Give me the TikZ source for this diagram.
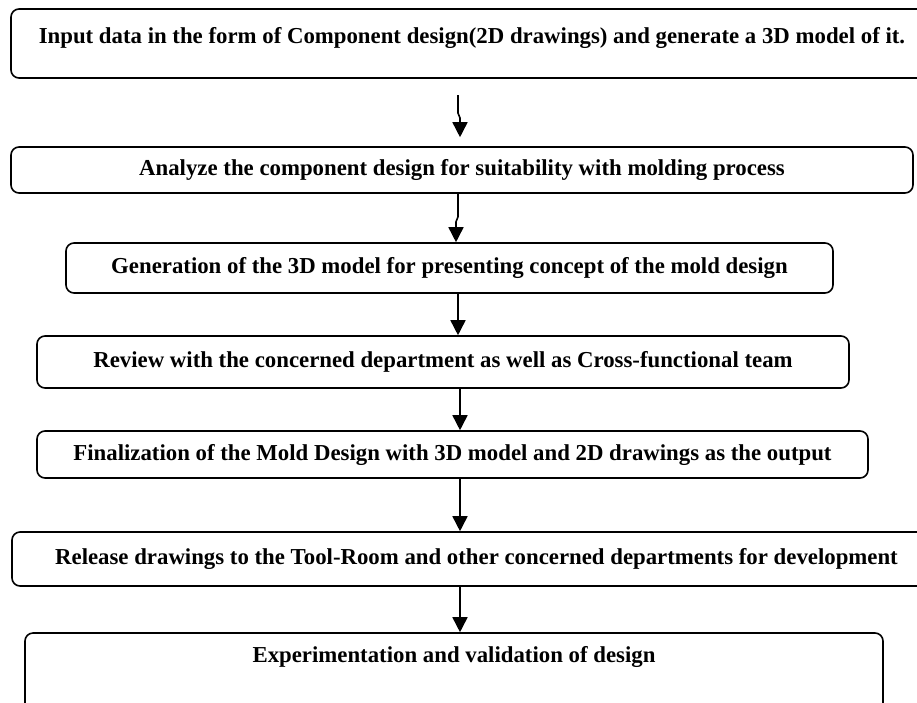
\documentclass[tikz,border=0pt]{standalone}
\usepackage{fontspec}
\setmainfont{Liberation Serif}
\usetikzlibrary{arrows.meta}
\tikzset{x=1pt, y=-1pt, % one unit is one pixel of the page, y going down
>={Triangle[width=15pt,length=15pt]}, % filled arrow heads
stage/.style={draw, line width=1.6pt, rounded corners=8pt, inner sep=0pt,
  font=\fontsize{22.8}{26}\selectfont\bfseries}, % the boxes of the flow
flow/.style={->, line width=1.6pt}, % the connectors between the boxes
}
\begin{document}
\begin{tikzpicture}
  \useasboundingbox (0,0) rectangle (917,702);

  \node[stage, minimum width=914pt, minimum height=69pt, text height=15pt, text depth=15pt] (s1) at (468,43.5)
    {\hspace*{8pt}Input data in the form of Component design(2D drawings) and generate a 3D model of it.};
  \node[stage, minimum width=902pt, minimum height=46pt] (s2) at (462,170)
    {Analyze the component design for suitability with molding process};
  \node[stage, minimum width=767pt, minimum height=50pt] (s3) at (449.5,268)
    {Generation of the 3D model for presenting concept of the mold design};
  \node[stage, minimum width=812pt, minimum height=52pt] (s4) at (443,362)
    {Review with the concerned department as well as Cross-functional team};
  \node[stage, minimum width=831pt, minimum height=47pt] (s5) at (452.5,454.5)
    {Finalization of the Mold Design with 3D model and 2D drawings as the output};
  \node[stage, minimum width=913pt, minimum height=54pt] (s6) at (468.5,559)
    {\hspace*{16pt}Release drawings to the Tool-Room and other concerned departments for development};
  \node[stage, minimum width=858pt, minimum height=79pt, text height=15pt, text depth=36pt] (s7) at (454,672.5)
    {Experimentation and validation of design};

  \coordinate (a1) at (458,95);

  \draw[flow, shorten >=9pt] (a1) -- ++(0,18) -- ++(2,5) -- (460,0 |- s2.north);
  \draw[flow] (s2.south -| 458,0) -- ++(0,23) -- ++(-2,5) -- (456,0 |- s3.north);
  \draw[flow] (s3.south -| 458,0) -- (s4.north -| 458,0);
  \draw[flow] (s4.south -| 460,0) -- (s5.north -| 460,0);
  \draw[flow] (s5.south -| 460,0) -- (s6.north -| 460,0);
  \draw[flow] (s6.south -| 460,0) -- (s7.north -| 460,0);

\end{tikzpicture}
\end{document}
